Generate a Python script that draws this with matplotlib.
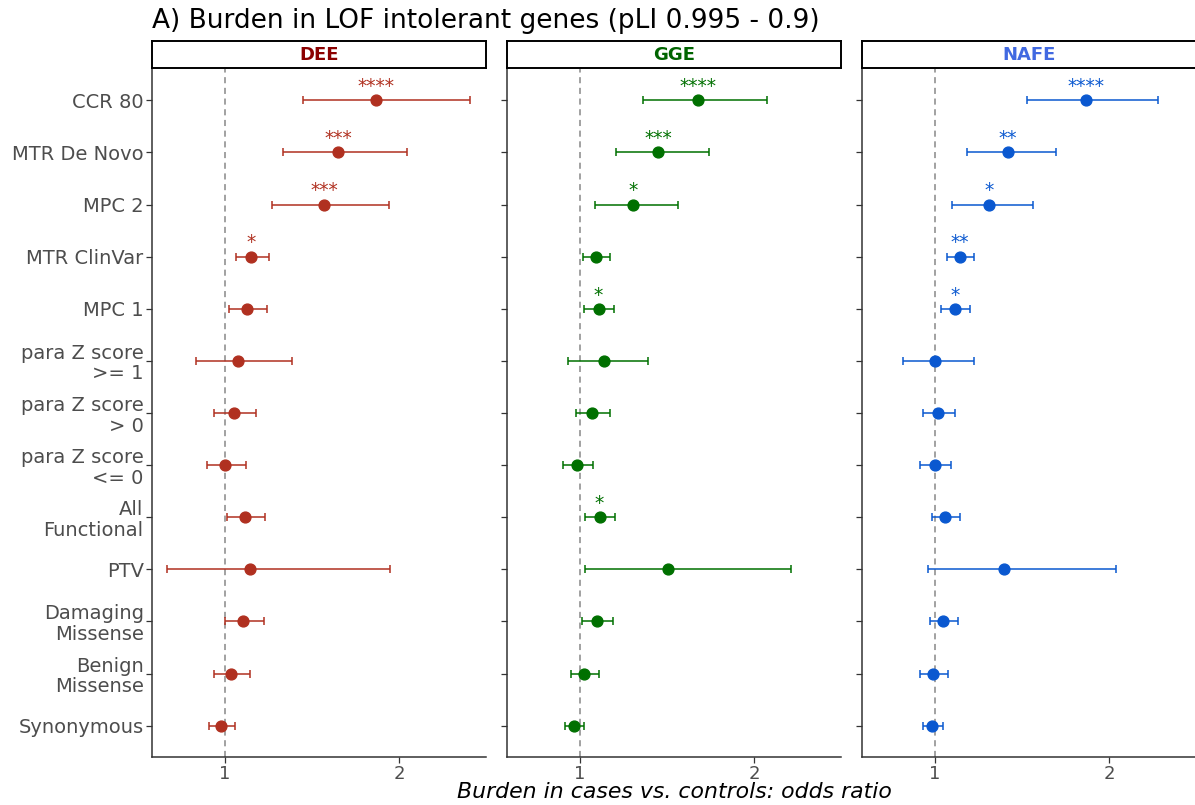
import matplotlib.pyplot as plt
import numpy as np

categories = ['CCR 80', 'MTR De Novo', 'MPC 2', 'MTR ClinVar', 'MPC 1',
              'para Z score\n>= 1', 'para Z score\n> 0', 'para Z score\n<= 0',
              'All\nFunctional', 'PTV', 'Damaging\nMissense', 'Benign\nMissense',
              'Synonymous']

# odds ratio, lower CI, upper CI and significance per cohort
dee_or = [1.87, 1.65, 1.57, 1.15, 1.126, 1.074, 1.05, 1.002, 1.114, 1.141, 1.105, 1.034, 0.977]
dee_lo = [1.447, 1.335, 1.272, 1.06, 1.025, 0.834, 0.935, 0.895, 1.011, 0.669, 0.998, 0.937, 0.907]
dee_hi = [2.41, 2.044, 1.945, 1.253, 1.242, 1.385, 1.177, 1.122, 1.23, 1.947, 1.225, 1.143, 1.057]
dee_sig = ['****', '***', '***', '*', '', '', '', '', '', '', '', '', '']

gge_or = [1.68, 1.45, 1.303, 1.091, 1.106, 1.136, 1.068, 0.983, 1.112, 1.506, 1.095, 1.025, 0.964]
gge_lo = [1.36, 1.206, 1.087, 1.019, 1.025, 0.93, 0.977, 0.90, 1.028, 1.028, 1.013, 0.947, 0.911]
gge_hi = [2.076, 1.739, 1.564, 1.172, 1.195, 1.392, 1.17, 1.072, 1.201, 2.212, 1.188, 1.108, 1.021]
gge_sig = ['****', '***', '*', '', '*', '', '', '', '*', '', '', '', '']

nafe_or = [1.866, 1.419, 1.312, 1.143, 1.114, 1.0, 1.017, 1.002, 1.059, 1.398, 1.047, 0.99, 0.985]
nafe_lo = [1.526, 1.186, 1.099, 1.07, 1.034, 0.817, 0.931, 0.916, 0.981, 0.958, 0.969, 0.916, 0.931]
nafe_hi = [2.282, 1.697, 1.562, 1.223, 1.2, 1.223, 1.114, 1.093, 1.143, 2.042, 1.133, 1.072, 1.046]
nafe_sig = ['****', '**', '*', '**', '*', '', '', '', '', '', '', '', '']

cohorts = ['DEE', 'GGE', 'NAFE']
point_cols = ['#B03020', '#007000', '#0A58D0']
strip_cols = ['#8B0000', '#006400', '#4169E1']
panels = [(dee_or, dee_lo, dee_hi, dee_sig),
          (gge_or, gge_lo, gge_hi, gge_sig),
          (nafe_or, nafe_lo, nafe_hi, nafe_sig)]

W, H = 1195, 805
fig = plt.figure(figsize=(W / 100, H / 100), dpi=100)
fig.patch.set_facecolor('white')

lefts = [152, 507, 862]
pw = 334
top, bot = 69, 757
ypos = np.arange(1, len(categories) + 1)

for i, (name, (odds, lo, hi, sig)) in enumerate(zip(cohorts, panels)):
    ax = fig.add_axes([lefts[i] / W, 1 - bot / H, pw / W, (bot - top) / H])
    odds = np.array(odds)
    err = [odds - np.array(lo), np.array(hi) - odds]
    ax.axvline(1, color='#888888', ls=(0, (4, 3)), lw=1.1, zorder=1)
    ax.errorbar(odds, ypos, xerr=err, fmt='o', color=point_cols[i],
                ecolor=point_cols[i], elinewidth=1.1, capsize=3, capthick=1.1,
                markersize=7.8, zorder=3)
    for x, y, s in zip(odds, ypos, sig):
        if s:
            ax.annotate(s, (x, y), xytext=(0, 3), textcoords='offset points',
                        ha='center', va='bottom', color=point_cols[i], fontsize=13.5)
    ax.set_xlim(0.58, 2.5)
    ax.set_ylim(13.6, 0.4)
    ax.set_xticks([1, 2])
    ax.set_yticks(ypos)
    if i == 0:
        ax.set_yticklabels(categories, fontsize=14, color='#4D4D4D',
                           linespacing=1.1)
    else:
        ax.set_yticklabels([])
    ax.tick_params(axis='x', labelsize=13, labelcolor='#4D4D4D', color='#333333',
                   length=4, width=0.9, pad=2)
    ax.tick_params(axis='y', color='#333333', length=4, width=0.9, pad=2)
    for sp in ['top', 'right']:
        ax.spines[sp].set_visible(False)
    for sp in ['left', 'bottom']:
        ax.spines[sp].set_color('#333333')
        ax.spines[sp].set_linewidth(1.1)

    # facet strip
    sax = fig.add_axes([lefts[i] / W, 1 - 68 / H, pw / W, 27 / H])
    sax.set_xticks([])
    sax.set_yticks([])
    for sp in sax.spines.values():
        sp.set_linewidth(1.4)
        sp.set_color('black')
    sax.text(0.5, 0.5, name, ha='center', va='center', fontsize=13,
             fontweight='bold', color=strip_cols[i], transform=sax.transAxes)

fig.text(152 / W, 1 - 21 / H, 'A) Burden in LOF intolerant genes (pLI 0.995 - 0.9)',
         fontsize=19, ha='left', va='center', color='black')
fig.text((lefts[0] + lefts[2] + pw) / 2 / W, 1 - 792 / H,
         'Burden in cases vs. controls: odds ratio',
         fontsize=15.8, style='italic', ha='center', va='center', color='black')

fig.savefig('out.png', dpi=100, facecolor='white')
